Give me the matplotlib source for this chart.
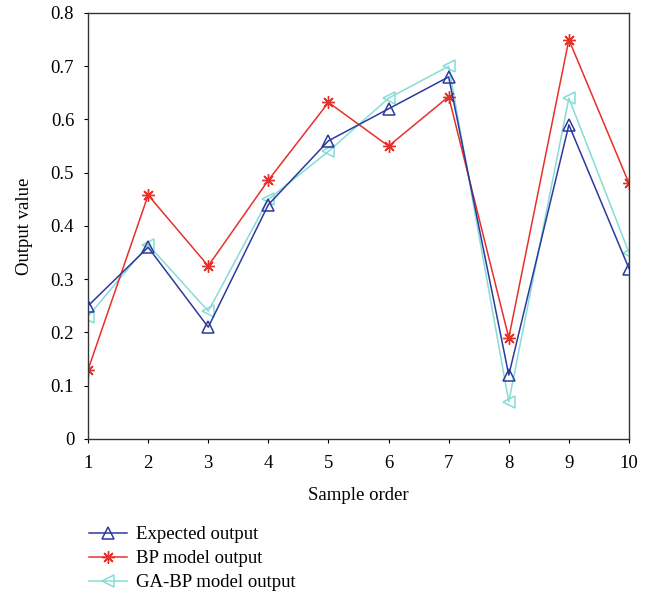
import matplotlib.pyplot as plt
import numpy as np

plt.rcParams['font.family'] = ['Liberation Serif', 'DejaVu Serif']

# Sample order on the x axis
samples = np.arange(1, 11)

expected = [0.25, 0.36, 0.21, 0.44, 0.56, 0.62, 0.68, 0.12, 0.59, 0.32]
bp_output = [0.13, 0.458, 0.325, 0.486, 0.632, 0.55, 0.643, 0.19, 0.75, 0.48]
ga_bp_output = [0.23, 0.365, 0.24, 0.45, 0.54, 0.64, 0.70, 0.07, 0.64, 0.35]

fig = plt.figure(figsize=(6.55, 5.95), dpi=100)
ax = fig.add_axes([0.1344, 0.2622, 0.8259, 0.716])

ax.plot(samples, expected, color='#2b3a9e', lw=1.1, marker='^', ms=9,
        mfc='none', mew=1.1, label='Expected output', zorder=3)
ax.plot(samples, bp_output, color='#e8302a', lw=1.1, marker=(8, 2, 0), ms=9,
        mew=1.0, label='BP model output', zorder=2)
ax.plot(samples, ga_bp_output, color='#86dcd6', lw=1.1, marker='<', ms=9,
        mfc='none', mew=1.1, label='GA-BP model output', zorder=1)

ax.set_xlim(1, 10)
ax.set_ylim(0, 0.8)
ax.set_xticks(samples)
ax.set_yticks(np.arange(0, 0.81, 0.1))
ax.set_yticklabels(['0'] + ['%.1f' % v for v in np.arange(0.1, 0.81, 0.1)])
ax.tick_params(direction='out', length=3, labelsize=13.5,
               top=False, right=False)
ax.tick_params(axis='x', pad=8.5)
ax.tick_params(axis='y', pad=7)

for s in ax.spines.values():
    s.set_color('#333333')
    s.set_linewidth(1.0)

ax.set_xlabel('Sample order', fontsize=13.5, labelpad=11)
ax.set_ylabel('Output value', fontsize=13.5, labelpad=13)

fig.legend(loc='upper left', bbox_to_anchor=(0.125, 0.128), frameon=False,
           fontsize=13.5, handlelength=2.0, labelspacing=0.36,
           borderaxespad=0, handletextpad=0.5)

fig.savefig('out.png', dpi=100)
